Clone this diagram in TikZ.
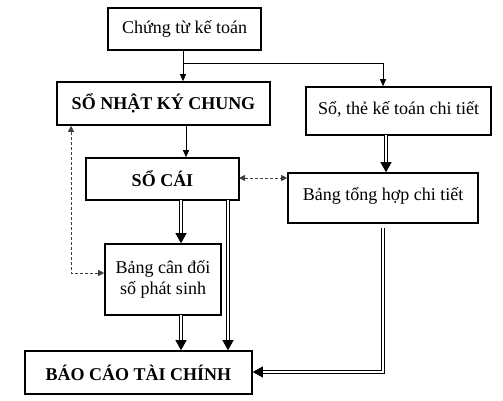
\documentclass[tikz,border=0pt]{standalone}
\usepackage{fontspec}
\setmainfont{Liberation Serif}
\usetikzlibrary{arrows.meta,calc}
\begin{document}
\begin{tikzpicture}[x=1pt,y=-1pt,
  box/.style={draw=black,line width=1.6pt,inner sep=0pt,font=\fontsize{18}{21}\selectfont,align=center},
  bbox/.style={box,font=\fontsize{18}{21}\selectfont\bfseries},
  thin/.style={draw=black,line width=0.8pt,-{Triangle[width=6pt,length=7pt]}},
  thinline/.style={draw=black,line width=0.8pt},
  dbl/.style={draw=black,line width=0.8pt,double,double distance=2.2pt,-{Triangle[width=11pt,length=10pt]}},
  dblline/.style={draw=black,line width=0.8pt,double,double distance=2.2pt},
  dsh/.style={draw=black!75,line width=0.8pt,dashed,dash pattern=on 3pt off 2pt,{Triangle[width=6pt,length=6pt]}-{Triangle[width=6pt,length=6pt]}}
]
\useasboundingbox (0,0) rectangle (503,401);
\fill[white] (0,0) rectangle (503,401);

\node[box,minimum width=153pt,minimum height=42pt] (b1) at (184.5,29) {Chứng từ kế toán};
\node[bbox,minimum width=213pt,minimum height=43pt] (b2) at (163.5,103.5) {SỔ NHẬT KÝ CHUNG};
\node[box,minimum width=185pt,minimum height=48pt] (b3) at (398.5,111) {\raisebox{7pt}{Sổ, thẻ kế toán chi tiết}};
\node[bbox,minimum width=153pt,minimum height=42pt] (b4) at (162.5,179) {SỔ CÁI};
\node[box,minimum width=190pt,minimum height=50pt] (b5) at (383,198) {\raisebox{8pt}{Bảng tổng hợp chi tiết}};
\node[box,minimum width=116pt,minimum height=71pt] (b6) at (163,279.5) {Bảng cân đối\\số phát sinh};
\node[bbox,minimum width=227pt,minimum height=43pt] (b7) at (138.5,372.5) {BÁO CÁO TÀI CHÍNH};

\coordinate (s1) at (183,50);
\coordinate (j1) at (183,63);
\coordinate (j2) at (383,63);
\draw[thinline] (s1) -- (j1);
\draw[thin] (j1) -- (j1 |- b2.north);
\draw[thin] (j1) -- (j2) -- (j2 |- b3.north);

\coordinate (s2) at (186,125);
\draw[thin] (s2) -- (s2 |- b4.north);

\coordinate (s3) at (386,135);
\draw[dbl] (s3) -- (s3 |- b5.north);

\coordinate (d1) at (239,178);
\draw[dsh] (d1) -- (d1 -| b5.west);

\coordinate (s4) at (181,200);
\draw[dbl] (s4) -- (s4 |- b6.north);
\coordinate (s5) at (228,200);
\draw[dbl] (s5) -- (s5 |- b7.north);
\coordinate (s6) at (181,315);
\draw[dbl] (s6) -- (s6 |- b7.north);

\coordinate (s7) at (383,228);
\coordinate (k7) at (383,372);
\draw[dbl] (s7) -- (k7) -- (k7 -| b7.east);

\coordinate (e6) at (105,273);
\coordinate (k6) at (71,273);
\draw[dsh] (e6 -| b6.west) -- (k6) -- (k6 |- b2.south);
\end{tikzpicture}
\end{document}
